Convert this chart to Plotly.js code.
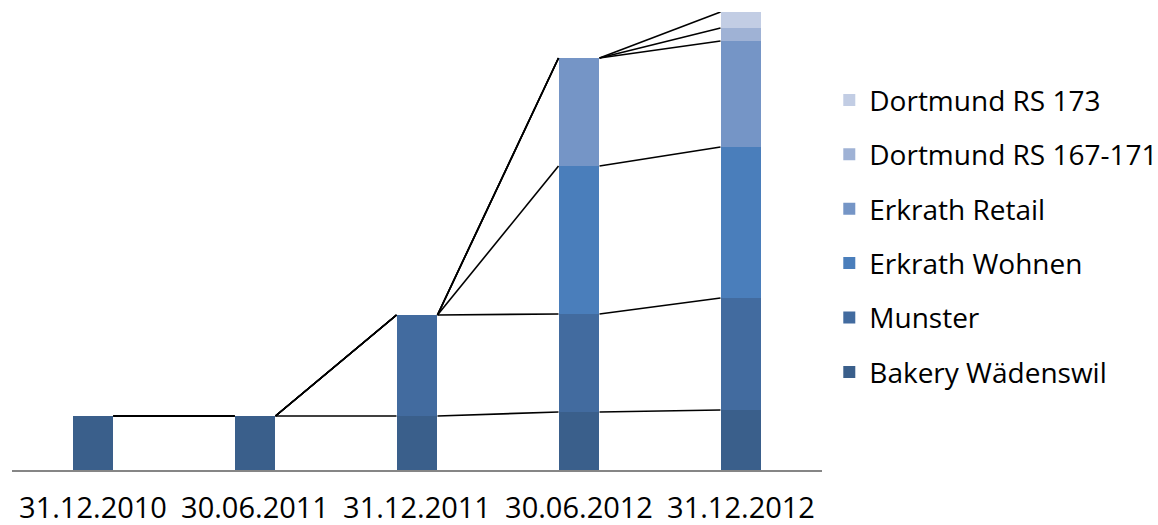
<!DOCTYPE html>
<html>
<head>
<meta charset="utf-8">
<script src="https://cdn.plot.ly/plotly-3.0.1.min.js"></script>
<style>html,body{margin:0;padding:0;background:#fff;}#chart{width:1158px;height:525px;}</style>
</head>
<body>
<div id="chart"></div>
<script>
// Category labels (reporting dates)
var categories = ["31.12.2010", "30.06.2011", "31.12.2011", "30.06.2012", "31.12.2012"];

// Series values (same arbitrary unit for all)
var bakeryWaedenswil = [54, 54, 54, 58, 60];
var munster          = [0, 0, 101, 98, 112];
var erkrathWohnen    = [0, 0, 0, 148, 151];
var erkrathRetail    = [0, 0, 0, 108, 106];
var dortmund167      = [0, 0, 0, 0, 13];
var dortmund173      = [0, 0, 0, 0, 16];

var seriesNames = ["Bakery Wädenswil", "Munster", "Erkrath Wohnen", "Erkrath Retail", "Dortmund RS 167-171", "Dortmund RS 173"];
var seriesValues = [bakeryWaedenswil, munster, erkrathWohnen, erkrathRetail, dortmund167, dortmund173];
var seriesColors = ["#3A5F8B", "#426B9F", "#4A7EBB", "#7595C6", "#9FB2D5", "#C2CDE4"];

var barWidth = 0.253;
var xpos = categories.map(function(_, i){ return i; });

var traces = [];
seriesValues.forEach(function(vals, s){
  traces.push({
    type: "bar",
    name: seriesNames[s],
    x: xpos,
    y: vals,
    width: barWidth,
    legendgroup: "g" + s,
    legendrank: 100 - s,
    marker: {color: seriesColors[s], line: {width: 0}},
    hoverinfo: "name+y"
  });
});

// Series lines connecting the top of each series segment between adjacent bars
var cum = [];
seriesValues.forEach(function(vals, s){
  cum.push(vals.map(function(v, i){ return (s > 0 ? cum[s-1][i] : 0) + v; }));
});
var lx = [], ly = [];
cum.forEach(function(tops){
  for (var i = 0; i < tops.length - 1; i++) {
    lx.push(i + barWidth/2, i + 1 - barWidth/2, null);
    ly.push(tops[i], tops[i+1], null);
  }
});
traces.push({
  type: "scatter", mode: "lines", x: lx, y: ly,
  line: {color: "#000000", width: 1.6},
  showlegend: false, hoverinfo: "skip", connectgaps: false
});

var layout = {
  width: 1158, height: 525,
  margin: {l: 12, r: 336, t: 12, b: 55, autoexpand: false},
  paper_bgcolor: "#ffffff", plot_bgcolor: "#ffffff",
  barmode: "stack",
  showlegend: true,
  font: {family: "Open Sans, sans-serif", color: "#000000", size: 28},
  xaxis: {
    range: [-0.5, 4.5],
    tickvals: xpos, ticktext: categories,
    showgrid: false, zeroline: false,
    showline: true, linecolor: "#868686", linewidth: 2,
    ticks: "", ticklabelstandoff: 11,
    tickfont: {size: 29, color: "#000000"},
    fixedrange: true
  },
  yaxis: {
    range: [0, 458],
    visible: false, showgrid: false, zeroline: false,
    fixedrange: true
  },
  legend: {
    x: 1.009, xanchor: "left",
    y: 0.862, yanchor: "top",
    traceorder: "grouped",
    tracegroupgap: 15,
    font: {size: 28, color: "#000000"},
    bgcolor: "rgba(0,0,0,0)", borderwidth: 0
  }
};

Plotly.newPlot("chart", traces, layout, {displayModeBar: false, staticPlot: true});
</script>
</body>
</html>
